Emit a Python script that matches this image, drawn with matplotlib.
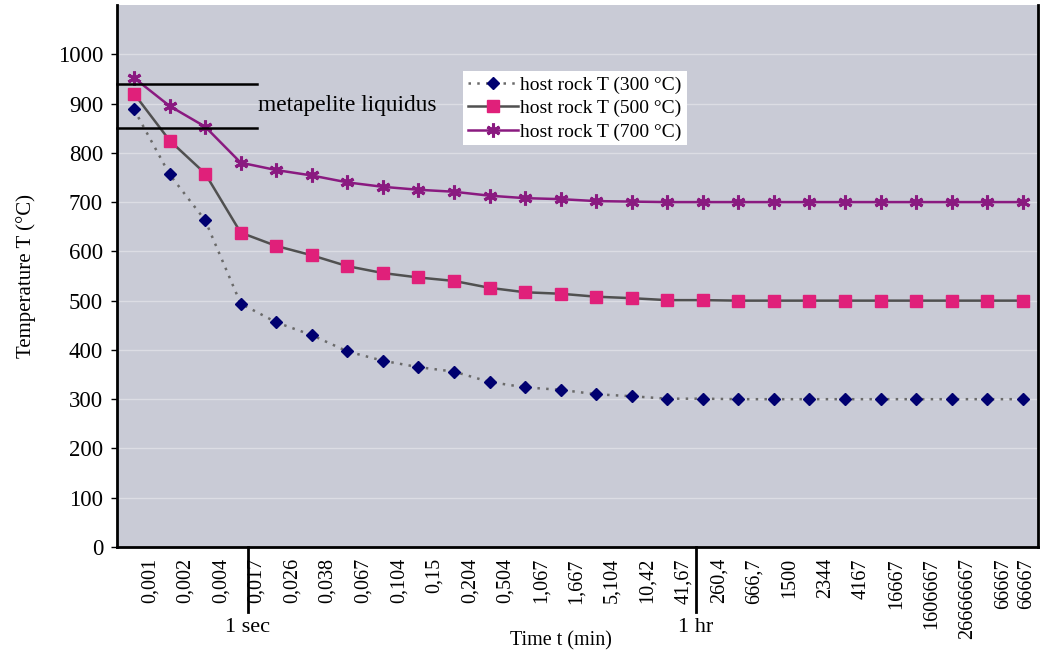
import matplotlib
matplotlib.use("Agg")
import matplotlib.pyplot as plt
import numpy as np

plt.rcParams['font.family'] = ['Liberation Serif', 'DejaVu Serif']

time_labels = ["0,001", "0,002", "0,004", "0,017", "0,026", "0,038", "0,067", "0,104",
               "0,15", "0,204", "0,504", "1,067", "1,667", "5,104", "10,42", "41,67",
               "260,4", "666,7", "1500", "2344", "4167", "16667", "1606667", "26666667",
               "66667", "66667"]

t300 = [888, 756, 663, 494, 456, 430, 397, 378, 365, 356, 335, 324, 319, 310, 306, 301,
        301, 300, 300, 300, 300, 300, 300, 300, 300, 300]
t500 = [920, 825, 758, 638, 611, 592, 570, 556, 547, 540, 526, 517, 514, 508, 505, 501,
        501, 500, 500, 500, 500, 500, 500, 500, 500, 500]
t700 = [952, 895, 853, 780, 765, 754, 740, 731, 725, 721, 713, 708, 706, 702, 701, 700,
        700, 700, 700, 700, 700, 700, 700, 700, 700, 700]

liquidus = [940, 850]
sec_pos = 3.2
hr_pos = 15.8

fig = plt.figure(figsize=(10.45, 6.57), dpi=100)
ax = fig.add_axes([117/1045, 1-547/657, (1038-117)/1045, (547-5)/657])
ax.set_facecolor('#c9cbd6')

x = np.arange(len(time_labels))

ax.set_ylim(0, 1100)
ax.set_xlim(-0.48, 25.43)
ax.set_yticks(np.arange(0, 1001, 100))
ax.yaxis.grid(True, color='#dcdde4', linewidth=1.0)
ax.set_axisbelow(True)

ax.plot(x, t300, linestyle=(0, (1, 2.5)), color='#6a6a6a', linewidth=1.8,
        marker='D', markersize=6.5, markerfacecolor='#000070', markeredgecolor='#000070',
        label='host rock T (300 °C)')
ax.plot(x, t500, linestyle='-', color='#505050', linewidth=1.8,
        marker='s', markersize=8.5, markerfacecolor='#e0207a', markeredgecolor='#e0207a',
        label='host rock T (500 °C)')
ax.plot(x, t700, linestyle='-', color='#8a1a80', linewidth=1.8,
        marker=(6, 2, 0), markersize=10, markeredgewidth=2.2, markeredgecolor='#8a1a80',
        label='host rock T (700 °C)')

for lv in liquidus:
    ax.plot([-0.48, 3.45], [lv, lv], color='black', linewidth=1.8, clip_on=False)
ax.text(3.5, 896, 'metapelite liquidus', fontsize=16.8, va='center', ha='left')

tick_pos = np.minimum(x + 0.45, 25.1)
ax.set_xticks(tick_pos)
ax.set_xticklabels(time_labels, rotation=90, fontsize=14.5, va='top', ha='center')
ax.tick_params(axis='x', length=0, pad=8)
ax.tick_params(axis='y', length=4, width=1, labelsize=16.5, pad=6, direction='out')

for s in ['left', 'bottom', 'right']:
    ax.spines[s].set_color('black')
    ax.spines[s].set_linewidth(2)
ax.spines['top'].set_visible(False)

# marker lines below axis
trans = ax.get_xaxis_transform()
for pos, lab in [(sec_pos, '1 sec'), (hr_pos, '1 hr')]:
    ax.plot([pos, pos], [0, -0.12], transform=trans, color='black', linewidth=2, clip_on=False)
    ax.text(pos, -0.148, lab, transform=trans, fontsize=16, ha='center', va='center')

ax.set_ylabel('Temperature T (°C)', fontsize=15, labelpad=16)
fig.text(561/1045, 1-641/657, 'Time t (min)', fontsize=14.5, ha='center', va='center')

leg = ax.legend(loc='upper left', bbox_to_anchor=((463-117)/921, (547-71)/542),
                fontsize=14, frameon=True, fancybox=False, framealpha=1,
                edgecolor='white', borderpad=0.25, labelspacing=0.3, handlelength=2.6,
                handletextpad=0.1, borderaxespad=0)
leg.get_frame().set_linewidth(0)

fig.savefig('out.png', dpi=100)
